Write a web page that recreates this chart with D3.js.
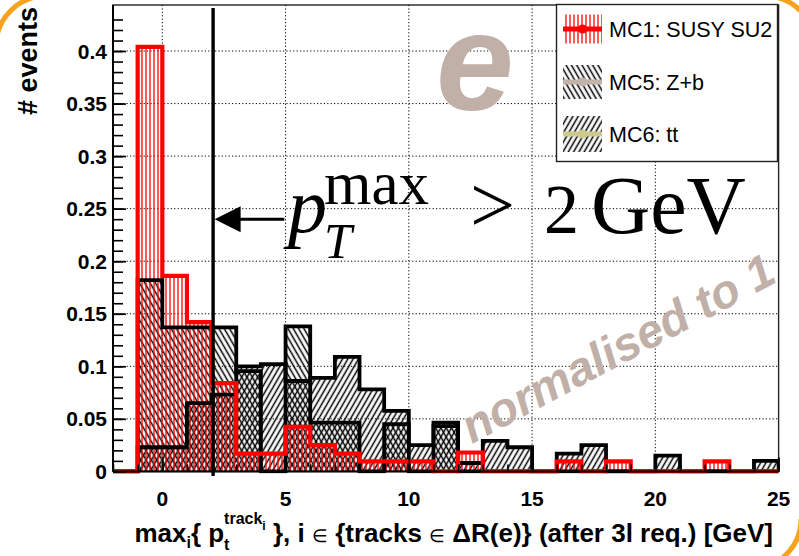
<!DOCTYPE html>
<html>
<head>
<meta charset="utf-8">
<script src="https://cdn.jsdelivr.net/npm/d3@7/dist/d3.min.js"></script>
<style>
  html, body { margin: 0; padding: 0; background: #fff; }
  svg { display: block; }
</style>
</head>
<body>
<svg id="chart" width="799" height="556"></svg>
<script>
// Lower edges of the unit-width bins (histogram range -2 .. 25)
const binLow = [-2, -1, 0, 1, 2, 3, 4, 5, 6, 7, 8, 9, 10, 11, 12,
                13, 14, 15, 16, 17, 18, 19, 20, 21, 22, 23, 24];
const binWidth = 1;

// MC1: SUSY SU2 (normalised)
const mc1 = [0, 0.404, 0.186, 0.142, 0.084, 0.017, 0.017, 0.0425, 0.025, 0.017,
             0.0095, 0.0095, 0.0095, 0, 0.018, 0, 0, 0, 0.0095, 0,
             0.0095, 0, 0, 0, 0.0095, 0, 0];
// MC5: Z+b (normalised)
const mc5 = [0, 0.182, 0.137, 0.137, 0.137, 0.0955, 0, 0.138, 0.0465, 0.0465,
             0, 0.045, 0, 0.0465, 0, 0, 0, 0, 0, 0,
             0, 0, 0, 0, 0, 0, 0];
// MC6: tt (normalised)
const mc6 = [0, 0.023, 0.023, 0.065, 0.073, 0.100, 0.102, 0.086, 0.089, 0.109,
             0.078, 0.0575, 0.025, 0.043, 0.008, 0.029, 0.023, 0, 0.017, 0.025,
             0, 0, 0.015, 0, 0, 0, 0.010];

const seriesNames = ["MC1: SUSY SU2", "MC5: Z+b", "MC6: tt"];
const xTicks = [0, 5, 10, 15, 20, 25];
const yTicks = [0, 0.05, 0.1, 0.15, 0.2, 0.25, 0.3, 0.35, 0.4];
const yTickLabels = ["0", "0.05", "0.1", "0.15", "0.2", "0.25", "0.3", "0.35", "0.4"];
const xDomain = [-2, 25];
const yMax = 0.4438;
const cutValue = 2;

const svg = d3.select("#chart");
const W = 799, H = 556;
const plot = { left: 113, right: 778.6, top: 5, bottom: 471.4 };

const x = d3.scaleLinear().domain(xDomain).range([plot.left, plot.right]);
const y = d3.scaleLinear().domain([0, yMax]).range([plot.bottom, plot.top]);

// ---- hatch patterns ----
const defs = svg.append("defs");
function linePattern(id, angle, spacing, color, width) {
  const p = defs.append("pattern")
    .attr("id", id)
    .attr("patternUnits", "userSpaceOnUse")
    .attr("width", spacing).attr("height", 10)
    .attr("patternTransform", `rotate(${angle})`);
  p.append("line")
    .attr("x1", spacing / 2).attr("x2", spacing / 2)
    .attr("y1", -1).attr("y2", 11)
    .attr("stroke", color).attr("stroke-width", width);
}
linePattern("hatchRed", 0, 4, "#ff0000", 1.3);
linePattern("hatchBack", -30, 4.6, "#000", 1.5);   // "\\\\" lines
linePattern("hatchFwd", 30, 4.6, "#000", 1.5);     // "////" lines

defs.append("clipPath").attr("id", "plotClip")
  .append("rect")
  .attr("x", plot.left).attr("y", plot.top - 2)
  .attr("width", plot.right - plot.left).attr("height", plot.bottom - plot.top + 4);

svg.append("rect").attr("width", W).attr("height", H).attr("fill", "#fff");

// ---- grid ----
const grid = svg.append("g").attr("stroke", "#000").attr("stroke-width", 1)
  .attr("stroke-dasharray", "1.2,2.2");
xTicks.filter(v => v > xDomain[0] && v < xDomain[1]).forEach(v => {
  grid.append("line").attr("x1", x(v)).attr("x2", x(v))
    .attr("y1", plot.top).attr("y2", plot.bottom);
});
yTicks.filter(v => v > 0).forEach(v => {
  grid.append("line").attr("x1", plot.left).attr("x2", plot.right)
    .attr("y1", y(v)).attr("y2", y(v));
});

// ---- histograms ----
function histPath(values) {
  const pts = [[x(binLow[0]), y(0)]];
  values.forEach((v, i) => {
    pts.push([x(binLow[i]), y(v)]);
    pts.push([x(binLow[i] + binWidth), y(v)]);
  });
  pts.push([x(binLow[binLow.length - 1] + binWidth), y(0)]);
  return d3.line()(pts);
}

const hg = svg.append("g").attr("clip-path", "url(#plotClip)");
hg.append("path").attr("d", histPath(mc5) + "Z").attr("fill", "url(#hatchBack)");
hg.append("path").attr("d", histPath(mc6) + "Z").attr("fill", "url(#hatchFwd)");
hg.append("path").attr("d", histPath(mc1) + "Z").attr("fill", "url(#hatchRed)");
hg.append("path").attr("d", histPath(mc5)).attr("fill", "none")
  .attr("stroke", "#000").attr("stroke-width", 3.8).attr("stroke-linejoin", "miter");
hg.append("path").attr("d", histPath(mc6)).attr("fill", "none")
  .attr("stroke", "#000").attr("stroke-width", 3.8).attr("stroke-linejoin", "miter");
hg.append("path").attr("d", histPath(mc1)).attr("fill", "none")
  .attr("stroke", "#ff0000").attr("stroke-width", 4.2).attr("stroke-linejoin", "miter");

// ---- frame and axes ----
svg.append("rect")
  .attr("x", plot.left).attr("y", plot.top)
  .attr("width", plot.right - plot.left).attr("height", plot.bottom - plot.top)
  .attr("fill", "none").attr("stroke", "#222").attr("stroke-width", 1.4);

const yAxis = d3.axisRight(y)
  .tickValues(yTicks).tickSize(13).tickFormat("");
const yMinor = d3.axisRight(y)
  .tickValues(d3.range(0, 0.44, 0.01)).tickSize(10).tickFormat("");
function styleAxis(g) {
  g.select(".domain").remove();
  g.selectAll(".tick line").attr("stroke", "#000").attr("stroke-width", 1.6);
}
svg.append("g").attr("transform", `translate(${plot.left},0)`).call(yMinor).call(styleAxis);
svg.append("g").attr("transform", `translate(${plot.left},0)`).call(yAxis).call(styleAxis);
svg.append("line").attr("x1", plot.left).attr("x2", plot.left)
  .attr("y1", plot.top).attr("y2", plot.bottom).attr("stroke", "#000").attr("stroke-width", 2);

const xAxis = d3.axisTop(x).tickValues(xTicks).tickSize(14).tickFormat("");
const xMinor = d3.axisTop(x).tickValues(d3.range(-2, 25.5, 1)).tickSize(7).tickFormat("");
svg.append("g").attr("transform", `translate(0,${plot.bottom})`).call(xMinor).call(styleAxis);
svg.append("g").attr("transform", `translate(0,${plot.bottom})`).call(xAxis).call(styleAxis);
svg.append("line").attr("x1", plot.left).attr("x2", plot.right)
  .attr("y1", plot.bottom).attr("y2", plot.bottom).attr("stroke", "#000").attr("stroke-width", 2);

const labelFont = "'Liberation Sans', Arial, Helvetica, sans-serif";
svg.append("g").selectAll("text").data(yTicks).join("text")
  .attr("x", 107).attr("y", d => y(d) + 7.5)
  .attr("text-anchor", "end")
  .attr("font-family", labelFont).attr("font-weight", "bold").attr("font-size", 21)
  .text((d, i) => yTickLabels[i]);
svg.append("g").selectAll("text").data(xTicks).join("text")
  .attr("x", d => x(d)).attr("y", 506)
  .attr("text-anchor", "middle")
  .attr("font-family", labelFont).attr("font-weight", "bold").attr("font-size", 21)
  .text(d => d);

// y title
svg.append("text")
  .attr("transform", "translate(37,7) rotate(-90)")
  .attr("text-anchor", "end")
  .attr("font-family", labelFont).attr("font-weight", "bold").attr("font-size", 27)
  .text("# events");

// x title, laid out piece by piece (sub/superscripts)
(function () {
  const g = svg.append("g");
  const base = 542;
  const nb = "\u00a0";
  const pieces = [
    { t: "max", s: 26, dy: 0 },
    { t: "i", s: 16, dy: 6 },
    { t: "{" + nb + "p", s: 26, dy: 0 },
    { t: "t", s: 16, dy: 8, hold: true },
    { t: "track", s: 16, dy: -18 },
    { t: "i", s: 12, dy: -12 },
    { t: nb + "}," + nb + "i" + nb, s: 26, dy: 0 },
    { t: "\u2208", s: 18, dy: 0, w: "normal" },
    { t: nb + "{tracks" + nb, s: 26, dy: 0 },
    { t: "\u2208", s: 18, dy: 0, w: "normal" },
    { t: nb + "\u0394R(e)}" + nb + "(after" + nb + "3l" + nb + "req.)" + nb + "[GeV]", s: 26, dy: 0 }
  ];
  let cx = 0, held = null;
  pieces.forEach(p => {
    const startX = held !== null ? held : cx;
    const el = g.append("text")
      .attr("x", startX).attr("y", base + p.dy)
      .attr("font-family", labelFont)
      .attr("font-weight", p.w || "bold")
      .attr("font-size", p.s)
      .text(p.t);
    const w = el.node().getComputedTextLength();
    if (p.hold) { held = startX; cx = startX + w; }
    else { cx = Math.max(cx, startX + w); held = null; }
  });
  g.attr("transform", `translate(${773 - cx},0)`);
})();

// ---- cut line and arrow ----
svg.append("line")
  .attr("x1", x(cutValue) + 1.5).attr("x2", x(cutValue) + 1.5)
  .attr("y1", 8).attr("y2", 476)
  .attr("stroke", "#000").attr("stroke-width", 3.4);
const arrowY = y(0.240);
svg.append("line")
  .attr("x1", x(cutValue) + 20).attr("x2", x(4.95))
  .attr("y1", arrowY).attr("y2", arrowY)
  .attr("stroke", "#000").attr("stroke-width", 3);
svg.append("path")
  .attr("d", `M${x(cutValue) + 3},${arrowY} L${x(cutValue) + 29},${arrowY - 13} L${x(cutValue) + 29},${arrowY + 13} Z`)
  .attr("fill", "#000");

// ---- cut annotation ----
const serif = "'Liberation Serif', 'Times New Roman', serif";
const ann = svg.append("g").attr("font-family", serif).attr("fill", "#000");
ann.append("text").attr("x", 288).attr("y", 232).attr("font-size", 78)
  .attr("font-style", "italic").text("p");
ann.append("text").attr("x", 324).attr("y", 204).attr("font-size", 61).text("max");
ann.append("text").attr("x", 324).attr("y", 258).attr("font-size", 50)
  .attr("font-style", "italic").text("T");
ann.append("text").attr("x", 470).attr("y", 232).attr("font-size", 80).text(">");
ann.append("text").attr("x", 544).attr("y", 233).attr("font-size", 70).text("2");
ann.append("text").attr("x", 591).attr("y", 233).attr("font-size", 82).text("GeV");

// ---- decorative labels ----
const beige = "#c1b0a8";
svg.append("text")
  .attr("x", 436).attr("y", 110)
  .attr("font-family", labelFont).attr("font-weight", "bold").attr("font-style", "italic")
  .attr("font-size", 140).attr("fill", beige)
  .text("e");
svg.append("text")
  .attr("transform", "translate(472,444) rotate(-28)")
  .attr("font-family", labelFont).attr("font-weight", "bold").attr("font-style", "italic")
  .attr("font-size", 47).attr("fill", beige)
  .text("normalised to 1");

// ---- legend ----
const leg = svg.append("g");
leg.append("rect")
  .attr("x", 556.5).attr("y", 4.5).attr("width", 221).attr("height", 157)
  .attr("fill", "#fff").attr("stroke", "#222").attr("stroke-width", 1.4);
const legRows = [
  { name: seriesNames[0], cy: 29, fill: "url(#hatchRed)", line: "#ff0000", h: 29 },
  { name: seriesNames[1], cy: 82, fill: "url(#hatchBack)", line: "#c2b3aa", h: 34 },
  { name: seriesNames[2], cy: 134, fill: "url(#hatchFwd)", line: "#cdc98f", h: 36 }
];
legRows.forEach(r => {
  leg.append("rect").attr("x", 563).attr("y", r.cy - r.h / 2)
    .attr("width", 39).attr("height", r.h).attr("fill", r.fill);
  leg.append("line").attr("x1", 563).attr("x2", 602)
    .attr("y1", r.cy).attr("y2", r.cy)
    .attr("stroke", r.line).attr("stroke-width", 5);
  leg.append("circle").attr("cx", 582.5).attr("cy", r.cy).attr("r", 4.5).attr("fill", r.line);
  leg.append("text").attr("x", 609).attr("y", r.cy + 7.5)
    .attr("font-family", labelFont).attr("font-size", 21.5).attr("fill", "#000")
    .text(r.name);
});

// ---- orange slide frame corners ----
const orange = "#f5a21e";
const corners = svg.append("g").attr("fill", "none").attr("stroke", orange).attr("stroke-width", 5);
corners.append("path")
  .attr("transform", "translate(46,46)")
  .attr("d", d3.arc()({ innerRadius: 50, outerRadius: 50, startAngle: -Math.PI / 2, endAngle: 0 }));
corners.append("path")
  .attr("transform", "translate(765,46)")
  .attr("d", d3.arc()({ innerRadius: 50, outerRadius: 50, startAngle: 0, endAngle: Math.PI / 2 }));
corners.append("path")
  .attr("transform", "translate(751,519)")
  .attr("d", d3.arc()({ innerRadius: 50, outerRadius: 50, startAngle: Math.PI / 2, endAngle: Math.PI }));
</script>
</body>
</html>
